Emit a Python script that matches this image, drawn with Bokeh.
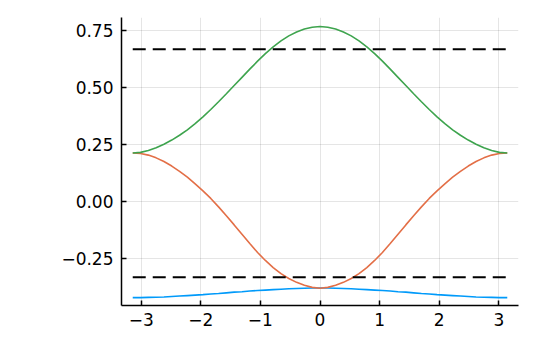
from bokeh.plotting import figure
from bokeh.models import Range1d, FixedTicker
from bokeh.embed import file_html
from bokeh.resources import INLINE

# k-points (x): -pi .. pi in steps of pi/24
x_vals = [-3.1416, -3.0107, -2.8798, -2.7489, -2.6180, -2.4871, -2.3562, -2.2253,
          -2.0944, -1.9635, -1.8326, -1.7017, -1.5708, -1.4399, -1.3090, -1.1781,
          -1.0472, -0.9163, -0.7854, -0.6545, -0.5236, -0.3927, -0.2618, -0.1309,
          0.0,
          0.1309, 0.2618, 0.3927, 0.5236, 0.6545, 0.7854, 0.9163, 1.0472,
          1.1781, 1.3090, 1.4399, 1.5708, 1.7017, 1.8326, 1.9635, 2.0944,
          2.2253, 2.3562, 2.4871, 2.6180, 2.7489, 2.8798, 3.0107, 3.1416]

band_blue = [-0.423, -0.423, -0.422, -0.421, -0.420, -0.418, -0.416, -0.414,
             -0.412, -0.410, -0.407, -0.405, -0.402, -0.399, -0.397, -0.394,
             -0.392, -0.390, -0.388, -0.386, -0.384, -0.383, -0.382, -0.381,
             -0.381,
             -0.381, -0.382, -0.383, -0.384, -0.386, -0.388, -0.390, -0.392,
             -0.394, -0.397, -0.399, -0.402, -0.405, -0.407, -0.410, -0.412,
             -0.414, -0.416, -0.418, -0.420, -0.421, -0.422, -0.423, -0.423]

band_orange = [0.211, 0.209, 0.202, 0.190, 0.174, 0.154, 0.131, 0.105,
               0.076, 0.045, 0.012, -0.025, -0.064, -0.104, -0.145, -0.186,
               -0.225, -0.260, -0.291, -0.318, -0.339, -0.356, -0.369, -0.378,
               -0.382,
               -0.378, -0.369, -0.356, -0.339, -0.318, -0.291, -0.260, -0.225,
               -0.186, -0.145, -0.104, -0.064, -0.025, 0.012, 0.045, 0.076,
               0.105, 0.131, 0.154, 0.174, 0.190, 0.202, 0.209, 0.211]

band_green = [0.211, 0.214, 0.222, 0.234, 0.250, 0.268, 0.289, 0.313,
              0.340, 0.370, 0.402, 0.436, 0.471, 0.507, 0.543, 0.579,
              0.614, 0.647, 0.677, 0.703, 0.725, 0.742, 0.755, 0.763,
              0.766,
              0.763, 0.755, 0.742, 0.725, 0.703, 0.677, 0.647, 0.614,
              0.579, 0.543, 0.507, 0.471, 0.436, 0.402, 0.370, 0.340,
              0.313, 0.289, 0.268, 0.250, 0.234, 0.222, 0.214, 0.211]

ref_x = [-3.1416, 3.1416]
ref_upper = [2 / 3, 2 / 3]
ref_lower = [-1 / 3, -1 / 3]

x_ticks = [-3, -2, -1, 0, 1, 2, 3]
x_tick_labels = ["\u22123", "\u22122", "\u22121", "0", "1", "2", "3"]
y_ticks = [-0.25, 0.0, 0.25, 0.5, 0.75]
y_tick_labels = ["\u22120.25", "0.00", "0.25", "0.50", "0.75"]

p = figure(width=528, height=348, output_backend="svg", toolbar_location=None,
           x_range=Range1d(-3.330, 3.330), y_range=Range1d(-0.4575, 0.8055),
           min_border_left=121, min_border_right=10, min_border_top=17,
           min_border_bottom=43)
p.outline_line_color = None
p.background_fill_color = "white"

p.line(x_vals, band_blue, line_color="#009AFA", line_width=1.6)
p.line(x_vals, band_orange, line_color="#E36F47", line_width=1.6)
p.line(x_vals, band_green, line_color="#3EA44E", line_width=1.6)
p.line(ref_x, ref_upper, line_color="black", line_width=2, line_dash="13 7")
p.line(ref_x, ref_lower, line_color="black", line_width=2, line_dash="13 7")

p.xaxis.ticker = FixedTicker(ticks=x_ticks)
p.yaxis.ticker = FixedTicker(ticks=y_ticks)
p.xaxis.major_label_overrides = {t: l for t, l in zip(x_ticks, x_tick_labels)}
p.yaxis.major_label_overrides = {t: l for t, l in zip(y_ticks, y_tick_labels)}

for ax in (p.xaxis[0], p.yaxis[0]):
    ax.axis_line_color = "black"
    ax.axis_line_width = 1.5
    ax.major_tick_in = 5
    ax.major_tick_out = 0
    ax.major_tick_line_color = "black"
    ax.major_tick_line_width = 1.5
    ax.minor_tick_line_color = None
    ax.major_label_text_font = "DejaVu Sans"
    ax.major_label_text_font_size = "17px"
    ax.major_label_text_color = "black"
p.xaxis.major_label_standoff = 7
p.yaxis.major_label_standoff = 8

p.grid.grid_line_color = "black"
p.grid.grid_line_alpha = 0.1
p.grid.grid_line_width = 1

open("out.html", "w").write(file_html(p, INLINE))
